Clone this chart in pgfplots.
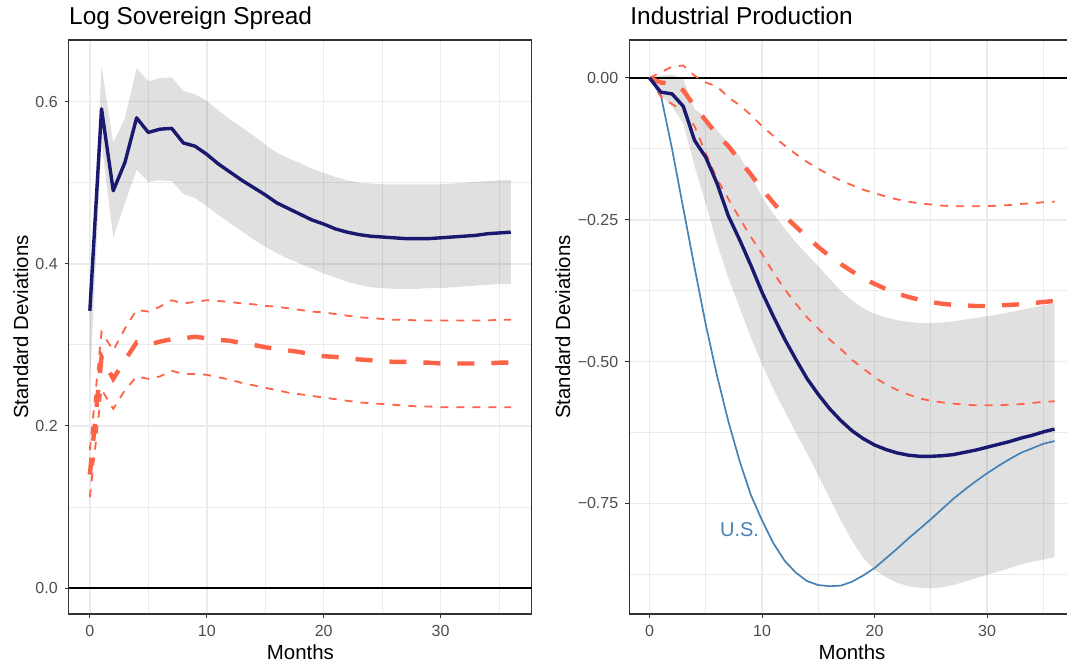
\documentclass[border=0pt]{standalone}
\usepackage{fontspec}
\setmainfont{Liberation Sans}
\usepackage{pgfplots}
\pgfplotsset{compat=1.18}
\usepackage{pgfplotstable}
\usepgfplotslibrary{fillbetween}
\definecolor{navyline}{HTML}{191970}
\definecolor{tomatoline}{HTML}{FF6347}
\definecolor{usblue}{HTML}{4682B4}
\definecolor{gg20}{HTML}{333333}
\definecolor{gg30}{HTML}{4D4D4D}
\definecolor{gg92}{HTML}{EBEBEB}

\pgfplotstableread{
x navy lo hi rmid rlo rhi
0 0.342 0.250 0.345 0.140 0.112 0.170
1 0.591 0.550 0.644 0.285 0.245 0.316
2 0.490 0.432 0.549 0.258 0.221 0.293
3 0.525 0.475 0.580 0.281 0.244 0.320
4 0.580 0.516 0.641 0.303 0.261 0.343
5 0.562 0.501 0.625 0.300 0.258 0.341
6 0.566 0.503 0.629 0.304 0.261 0.347
7 0.567 0.502 0.630 0.307 0.268 0.355
8 0.549 0.486 0.613 0.308 0.264 0.351
9 0.545 0.481 0.609 0.310 0.264 0.353
10 0.535 0.471 0.601 0.308 0.263 0.355
11 0.523 0.460 0.589 0.306 0.260 0.354
12 0.513 0.450 0.578 0.305 0.257 0.353
13 0.503 0.440 0.568 0.302 0.253 0.351
14 0.494 0.430 0.558 0.300 0.250 0.350
15 0.485 0.421 0.547 0.297 0.247 0.348
16 0.475 0.413 0.537 0.295 0.244 0.347
17 0.468 0.406 0.530 0.293 0.241 0.345
18 0.461 0.400 0.524 0.291 0.239 0.343
19 0.454 0.394 0.517 0.288 0.237 0.341
20 0.449 0.388 0.512 0.286 0.235 0.340
21 0.443 0.383 0.507 0.285 0.233 0.338
22 0.439 0.378 0.503 0.284 0.231 0.336
23 0.436 0.374 0.500 0.282 0.229 0.334
24 0.434 0.371 0.499 0.281 0.228 0.333
25 0.433 0.370 0.498 0.280 0.227 0.332
26 0.432 0.369 0.498 0.279 0.226 0.331
27 0.431 0.369 0.498 0.279 0.225 0.331
28 0.431 0.369 0.498 0.278 0.224 0.330
29 0.431 0.370 0.498 0.278 0.224 0.330
30 0.432 0.370 0.498 0.277 0.223 0.330
31 0.433 0.371 0.499 0.277 0.223 0.330
32 0.434 0.372 0.500 0.277 0.223 0.330
33 0.435 0.373 0.501 0.277 0.223 0.330
34 0.437 0.374 0.502 0.277 0.223 0.330
35 0.438 0.375 0.503 0.278 0.223 0.331
36 0.439 0.375 0.503 0.278 0.223 0.331
}\spreadtable

\pgfplotstableread{
x navy lo hi rmid rlo rhi us
0 0 0 0 0 0 0 0
1 -0.025 -0.030 0.004 -0.008 -0.033 0.010 -0.030
2 -0.028 -0.050 0.006 -0.010 -0.046 0.020 -0.125
3 -0.050 -0.080 -0.002 -0.022 -0.058 0.022 -0.230
4 -0.110 -0.155 -0.055 -0.050 -0.085 0.004 -0.334
5 -0.140 -0.222 -0.070 -0.075 -0.133 -0.008 -0.435
6 -0.186 -0.292 -0.092 -0.100 -0.178 -0.015 -0.525
7 -0.243 -0.352 -0.115 -0.120 -0.213 -0.034 -0.605
8 -0.285 -0.405 -0.138 -0.145 -0.247 -0.048 -0.675
9 -0.330 -0.457 -0.172 -0.170 -0.280 -0.065 -0.735
10 -0.378 -0.505 -0.210 -0.196 -0.310 -0.085 -0.780
11 -0.420 -0.548 -0.240 -0.220 -0.343 -0.102 -0.820
12 -0.460 -0.587 -0.265 -0.243 -0.372 -0.119 -0.851
13 -0.496 -0.625 -0.290 -0.262 -0.398 -0.134 -0.872
14 -0.530 -0.662 -0.311 -0.280 -0.422 -0.148 -0.887
15 -0.558 -0.701 -0.332 -0.298 -0.442 -0.160 -0.894
16 -0.583 -0.741 -0.354 -0.314 -0.461 -0.171 -0.896
17 -0.604 -0.780 -0.375 -0.328 -0.478 -0.181 -0.895
18 -0.622 -0.816 -0.392 -0.341 -0.497 -0.189 -0.888
19 -0.636 -0.846 -0.406 -0.353 -0.512 -0.197 -0.877
20 -0.647 -0.867 -0.416 -0.363 -0.528 -0.203 -0.864
21 -0.655 -0.880 -0.422 -0.372 -0.540 -0.209 -0.847
22 -0.661 -0.890 -0.427 -0.380 -0.550 -0.214 -0.830
23 -0.665 -0.896 -0.430 -0.386 -0.558 -0.218 -0.812
24 -0.667 -0.899 -0.432 -0.391 -0.565 -0.221 -0.795
25 -0.667 -0.900 -0.432 -0.395 -0.569 -0.223 -0.778
26 -0.666 -0.898 -0.431 -0.398 -0.572 -0.225 -0.760
27 -0.664 -0.894 -0.429 -0.400 -0.574 -0.226 -0.742
28 -0.660 -0.888 -0.426 -0.401 -0.576 -0.226 -0.726
29 -0.656 -0.882 -0.423 -0.402 -0.577 -0.226 -0.711
30 -0.651 -0.876 -0.420 -0.402 -0.577 -0.226 -0.697
31 -0.646 -0.870 -0.417 -0.401 -0.577 -0.225 -0.684
32 -0.641 -0.864 -0.413 -0.400 -0.576 -0.224 -0.672
33 -0.635 -0.858 -0.409 -0.399 -0.575 -0.222 -0.661
34 -0.630 -0.853 -0.405 -0.397 -0.573 -0.221 -0.653
35 -0.624 -0.849 -0.401 -0.395 -0.571 -0.219 -0.645
36 -0.619 -0.845 -0.397 -0.393 -0.570 -0.218 -0.640
}\iptable

\pgfplotsset{
  ggstyle/.style={
    scale only axis,
    anchor=south west,
    axis line style={color=gg20, line width=0.6pt},
    grid=both,
    major grid style={color=gg92, line width=0.75pt},
    minor grid style={color=gg92, line width=0.4pt},
    tick style={color=gg20, line width=0.5pt},
    tick align=outside,
    tick pos=left,
    major tick length=2pt,
    minor tick length=0pt,
    xmin=-1.8, xmax=37.8,
    xtick={0,10,20,30},
    minor xtick={5,15,25,35},
    ticklabel style={font=\fontsize{8}{9.6}\selectfont, color=gg30},
    /pgf/number format/assume math mode=true,
    clip=true,
  },
  navystyle/.style={color=navyline, line width=1.7pt, line join=round},
  thickdash/.style={color=tomatoline, line width=2.2pt, dash pattern=on 8.5pt off 8.5pt},
  thindash/.style={color=tomatoline, line width=0.9pt, dash pattern=on 4pt off 4pt},
}

\begin{document}
\begin{tikzpicture}

% ---------- Left panel ----------
\begin{axis}[ggstyle,
  at={(34.4pt,24.5pt)},
  width=231.5pt, height=287pt,
  ymin=-0.032, ymax=0.676,
  ytick={0,0.2,0.4,0.6},
  minor ytick={0.1,0.3,0.5},
  yticklabels={0.0,0.2,0.4,0.6},
]
\addplot[name path=lhi, draw=none, forget plot] table[x=x,y=hi]{\spreadtable};
\addplot[name path=llo, draw=none, forget plot] table[x=x,y=lo]{\spreadtable};
\addplot[fill=black, fill opacity=0.12, draw=none, forget plot] fill between[of=lhi and llo];
\addplot[black, line width=1pt, forget plot] coordinates {(-1.8,0) (37.8,0)};
\addplot[thindash] table[x=x,y=rhi]{\spreadtable};
\addplot[thindash] table[x=x,y=rlo]{\spreadtable};
\addplot[thickdash] table[x=x,y=rmid]{\spreadtable};
\addplot[navystyle] table[x=x,y=navy]{\spreadtable};
\end{axis}

% ---------- Right panel ----------
\begin{axis}[ggstyle,
  at={(314.65pt,24.5pt)},
  width=222.75pt, height=287pt,
  ymin=-0.945, ymax=0.067,
  ytick={-0.75,-0.5,-0.25,0},
  minor ytick={-0.875,-0.625,-0.375,-0.125},
  yticklabels={−0.75,−0.50,−0.25,0.00},
]
\addplot[name path=rhi, draw=none, forget plot] table[x=x,y=hi]{\iptable};
\addplot[name path=rlo, draw=none, forget plot] table[x=x,y=lo]{\iptable};
\addplot[fill=black, fill opacity=0.12, draw=none, forget plot] fill between[of=rhi and rlo];
\addplot[black, line width=1pt, forget plot] coordinates {(-1.8,0) (37.8,0)};
\addplot[color=usblue, line width=0.85pt, line join=round] table[x=x,y=us]{\iptable};
\addplot[thindash] table[x=x,y=rhi]{\iptable};
\addplot[thindash] table[x=x,y=rlo]{\iptable};
\addplot[thickdash] table[x=x,y=rmid]{\iptable};
\addplot[navystyle] table[x=x,y=navy]{\iptable};
\node[color=usblue, font=\fontsize{10}{12}\selectfont] at (axis cs:8,-0.797) {U.S.};
\end{axis}

% ---------- Titles and axis labels ----------
\node[anchor=base west, inner sep=0pt, font=\fontsize{12.2}{14}\selectfont] at (34.4pt,319pt) {Log Sovereign Spread};
\node[anchor=base west, inner sep=0pt, font=\fontsize{12.2}{14}\selectfont] at (315pt,319pt) {Industrial Production};
\node[anchor=base, inner sep=0pt, font=\fontsize{10.2}{12}\selectfont] at (150.2pt,1.5pt) {Months};
\node[anchor=base, inner sep=0pt, font=\fontsize{10.2}{12}\selectfont] at (426pt,1.5pt) {Months};
\node[anchor=base, rotate=90, inner sep=0pt, font=\fontsize{10.2}{12}\selectfont] at (14pt,168pt) {Standard Deviations};
\node[anchor=base, rotate=90, inner sep=0pt, font=\fontsize{10.2}{12}\selectfont] at (285pt,168pt) {Standard Deviations};

\pgfresetboundingbox
\path[use as bounding box] (0,0) rectangle (533.5pt,331.5pt);
\end{tikzpicture}
\end{document}
